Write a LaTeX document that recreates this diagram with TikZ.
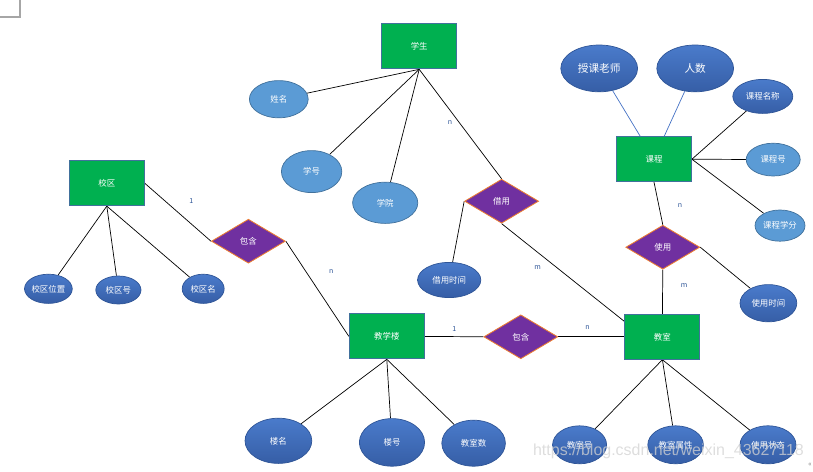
\documentclass[tikz,border=0pt]{standalone}
\usepackage{fontspec}
\setmainfont{Noto Sans CJK SC}
\newfontfamily\wmfont{Liberation Sans}
\usepackage{tikz}
\usetikzlibrary{shapes.geometric}
\pgfdeclarelayer{edgelayer}
\pgfdeclarelayer{nodelayer}
\pgfsetlayers{edgelayer,nodelayer,main}
\definecolor{entgreen}{HTML}{00B050}
\definecolor{entedge}{HTML}{41719C}
\definecolor{relpurple}{HTML}{7030A0}
\definecolor{relorange}{HTML}{ED7D31}
\definecolor{attrlight}{HTML}{5B9BD5}
\definecolor{attrtop}{HTML}{4A7BCB}
\definecolor{attrbottom}{HTML}{365EA6}
\definecolor{attredge}{HTML}{2F5597}
\definecolor{linkblue}{HTML}{4472C4}
\definecolor{cardblue}{HTML}{2E5597}
\tikzstyle{entity}=[rectangle,fill=entgreen,draw=entedge,line width=0.6pt,minimum width=1.875cm,minimum height=1.125cm,inner sep=0pt,text=white,font=\fontsize{6}{7}\selectfont]
\tikzstyle{relation}=[diamond,fill=relpurple,draw=relorange,line width=0.6pt,minimum width=1.85cm,minimum height=1.1cm,inner sep=0pt,text=white,font=\fontsize{6}{7}\selectfont]
\tikzstyle{attr}=[ellipse,fill=attrlight,draw=entedge,line width=0.5pt,inner sep=0pt,text=white,font=\fontsize{6}{7}\selectfont]
\tikzstyle{attr dark}=[ellipse,top color=attrtop,bottom color=attrbottom,draw=attredge,line width=0.5pt,inner sep=0pt,text=white,font=\fontsize{6}{7}\selectfont]
\tikzstyle{card}=[text=cardblue,inner sep=0pt,font=\fontsize{5}{6}\selectfont]
\tikzstyle{link}=[-,draw=black,line width=0.5pt]
\tikzstyle{link blue}=[-,draw=linkblue,line width=0.5pt]

\begin{document}
\begin{tikzpicture}
	\useasboundingbox (0, 0) rectangle (20.325, -11.775);
	\begin{pgfonlayer}{nodelayer}
		\node [style=entity] (0) at (10.48, -1.16) {学生};
		\node [style=entity] (1) at (16.35, -3.98) {课程};
		\node [style=entity] (2) at (2.67, -4.58) {校区};
		\node [style=entity] (3) at (9.67, -8.41) {教学楼};
		\node [style=entity] (4) at (16.56, -8.42) {教室};
		\node [style=relation] (5) at (12.54, -5.03) {借用};
		\node [style=relation] (6) at (6.21, -6.03) {包含};
		\node [style=relation] (7) at (16.57, -6.18) {使用};
		\node [style=relation] (8) at (13.02, -8.42) {包含};
		\node [style=attr, minimum width=1.47cm, minimum height=0.93cm] (9) at (6.97, -2.48) {姓名};
		\node [style=attr, minimum width=1.51cm, minimum height=1.05cm] (10) at (7.79, -4.29) {学号};
		\node [style=attr, minimum width=1.63cm, minimum height=1.03cm] (11) at (9.63, -5.07) {学院};
		\node [style=attr dark, minimum width=1.92cm, minimum height=1.17cm, font=\fontsize{7.6}{9}\selectfont] (12) at (14.98, -1.71) {授课老师};
		\node [style=attr dark, minimum width=1.92cm, minimum height=1.17cm, font=\fontsize{7.6}{9}\selectfont] (13) at (17.38, -1.71) {人数};
		\node [style=attr dark, minimum width=1.5cm, minimum height=0.85cm] (14) at (19.07, -2.41) {课程名称};
		\node [style=attr, minimum width=1.35cm, minimum height=0.82cm] (15) at (19.33, -3.99) {课程号};
		\node [style=attr, minimum width=1.25cm, minimum height=0.78cm] (16) at (19.5, -5.64) {课程学分};
		\node [style=attr dark, minimum width=1.58cm, minimum height=0.88cm] (17) at (11.23, -7.0) {借用时间};
		\node [style=attr dark, minimum width=1.42cm, minimum height=0.93cm] (18) at (19.21, -7.58) {使用时间};
		\node [style=attr dark, minimum width=1.13cm, minimum height=0.73cm] (19) at (1.21, -7.22) {校区位置};
		\node [style=attr dark, minimum width=1.13cm, minimum height=0.7cm] (20) at (2.96, -7.25) {校区号};
		\node [style=attr dark, minimum width=1.05cm, minimum height=0.73cm] (21) at (5.08, -7.22) {校区名};
		\node [style=attr dark, minimum width=1.67cm, minimum height=1.13cm] (22) at (6.96, -11.02) {楼名};
		\node [style=attr dark, minimum width=1.63cm, minimum height=1.19cm] (23) at (9.8, -11.06) {楼号};
		\node [style=attr dark, minimum width=1.59cm, minimum height=1.15cm] (24) at (11.84, -11.08) {教室数};
		\node [style=attr dark, minimum width=1.35cm, minimum height=0.95cm] (25) at (14.49, -11.12) {教室号};
		\node [style=attr dark, minimum width=1.39cm, minimum height=0.95cm] (26) at (16.89, -11.12) {教室属性};
		\node [style=attr dark, minimum width=1.4cm, minimum height=0.95cm] (27) at (19.2, -11.12) {使用状态};
		\node [style=card] (28) at (11.25, -3.07) {n};
		\node [style=card] (29) at (4.78, -5.02) {1};
		\node [style=card] (30) at (8.28, -6.79) {n};
		\node [style=card] (31) at (11.36, -8.23) {1};
		\node [style=card] (32) at (14.69, -8.19) {n};
		\node [style=card] (33) at (13.44, -6.69) {m};
		\node [style=card] (34) at (17.0, -5.14) {n};
		\node [style=card] (35) at (17.1, -7.14) {m};
	\end{pgfonlayer}
	\begin{pgfonlayer}{edgelayer}
		\draw [style=link] (0.south) to (9);
		\draw [style=link] (0.south) to (10);
		\draw [style=link] (0.south) to (11);
		\draw [style=link] (0.south) to (5.north);
		\draw [style=link] (5.west) to (17);
		\draw [style=link] (5.south) to (4.158);
		\draw [style=link blue] (1.121) to (12);
		\draw [style=link blue] (1.66) to (13);
		\draw [style=link] (1.east) to (14);
		\draw [style=link] (1.east) to (15);
		\draw [style=link] (1.east) to (16);
		\draw [style=link] (1.south) to (7.north);
		\draw [style=link] (7.south) to (4.north);
		\draw [style=link] (7.east) to (18);
		\draw [style=link] (2.south) to (19);
		\draw [style=link] (2.south) to (20);
		\draw [style=link] (2.south) to (21);
		\draw [style=link] (2.east) to (6.west);
		\draw [style=link] (6.east) to (3.west);
		\draw [style=link] (3.east) to (8.west);
		\draw [style=link] (8.east) to (4.west);
		\draw [style=link] (3.south) to (22);
		\draw [style=link] (3.south) to (23);
		\draw [style=link] (3.south) to (24);
		\draw [style=link] (4.south) to (25);
		\draw [style=link] (4.south) to (26);
		\draw [style=link] (4.south) to (27);
	\end{pgfonlayer}
	% page corner and watermark
	\draw [gray!70, line width=0.8pt] (0, -0.425) -- (0.5, -0.425) -- (0.5, 0);
	\node [anchor=base west, inner sep=0pt, text=gray!35, opacity=0.75] (36) at (13.32, -11.375) {\resizebox{6.77cm}{!}{\wmfont https://blog.csdn.net/weixin\_43627118}};
	\node [anchor=center, inner sep=0pt, text=gray, font=\fontsize{5}{6}\selectfont] (37) at (20.25, -11.63) {«};
\end{tikzpicture}
\end{document}
